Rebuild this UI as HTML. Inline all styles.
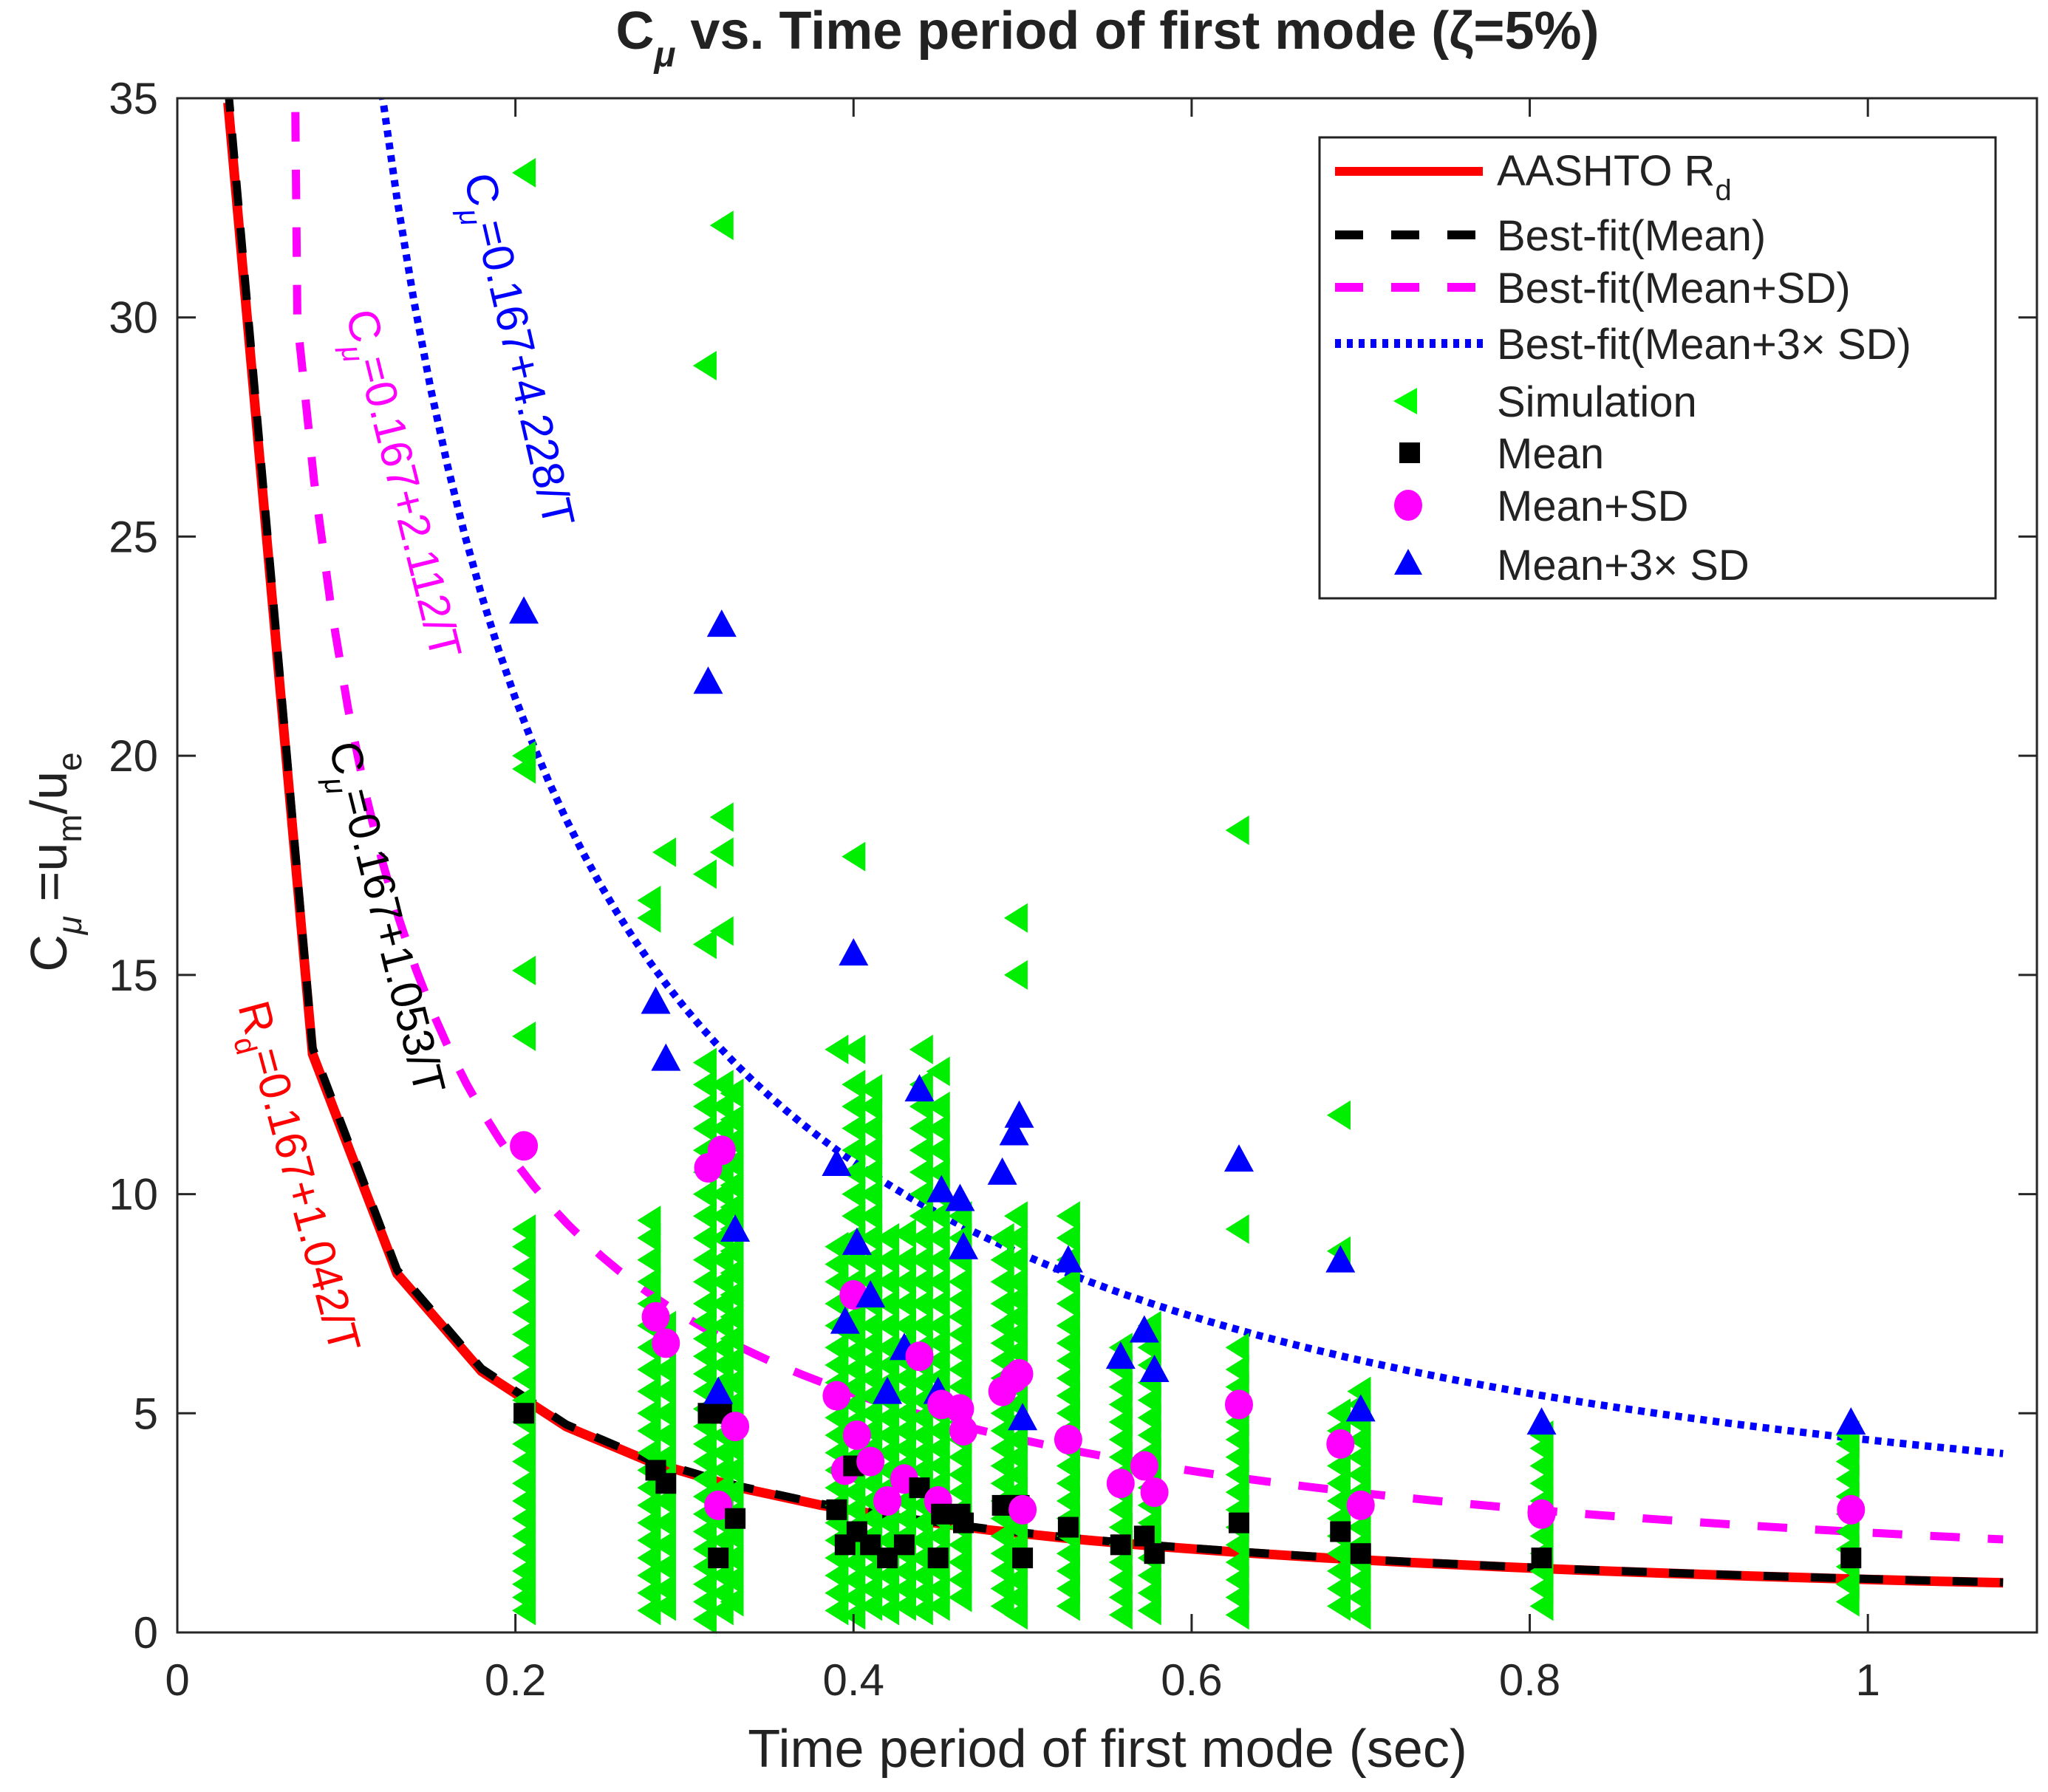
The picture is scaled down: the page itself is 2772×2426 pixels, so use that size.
<!DOCTYPE html>
<html><head><meta charset="utf-8"><style>
html,body{margin:0;padding:0;background:#fff;}
svg{display:block;font-family:"Liberation Sans",sans-serif;}
</style></head><body>
<svg id="chart" width="2772" height="2426" viewBox="0 0 2772 2426" xmlns="http://www.w3.org/2000/svg">
<rect width="2772" height="2426" fill="#fff"/>
<text x="1499" y="66" text-anchor="middle" font-size="72" font-weight="bold" fill="#222">C<tspan font-size="48" font-style="italic" dy="24">μ</tspan><tspan dy="-24"> vs. Time period of first mode (ζ=5%)</tspan></text>
<g id="curves"></g>
<g id="marks"></g>
<g id="axes"></g>
<text x="1499" y="2392" text-anchor="middle" font-size="72" fill="#222">Time period of first mode (sec)</text>
<g transform="translate(90,1167) rotate(-90)"><text text-anchor="middle" font-size="70" fill="#222">C<tspan font-size="46" font-style="italic" dy="20">μ</tspan><tspan dy="-20"> =u</tspan><tspan font-size="46" dy="20">m</tspan><tspan dy="-20">/u</tspan><tspan font-size="46" dy="20">e</tspan></text></g>
<g transform="translate(322,1362) rotate(75)"><text font-size="60" fill="#f00">R<tspan font-size="40" dy="18">d</tspan><tspan dy="-18">=0.167+1.042/T</tspan></text></g>
<g transform="translate(445,1010) rotate(76)"><text font-size="60" fill="#000">C<tspan font-size="40" font-style="italic" dy="18">μ</tspan><tspan dy="-18">=0.167+1.053/T</tspan></text></g>
<g transform="translate(468,425) rotate(76)"><text font-size="60" fill="#f0f">C<tspan font-size="40" font-style="italic" dy="18">μ</tspan><tspan dy="-18">=0.167+2.112/T</tspan></text></g>
<g transform="translate(628,240) rotate(77)"><text font-size="60" fill="#00f">C<tspan font-size="40" font-style="italic" dy="18">μ</tspan><tspan dy="-18">=0.167+4.228/T</tspan></text></g>
<g id="legend">
<rect x="1786" y="186" width="915" height="624" fill="#fff" stroke="#222" stroke-width="3"/>
<line x1="1807" y1="232" x2="2007" y2="232" stroke="#f00" stroke-width="12"/>
<text x="2026" y="251" font-size="58" fill="#222">AASHTO R<tspan font-size="40" dy="20">d</tspan></text>
<line x1="1807" y1="318" x2="2007" y2="318" stroke="#000" stroke-width="12" stroke-dasharray="38,38"/>
<text x="2026" y="339" font-size="58" fill="#222">Best-fit(Mean)</text>
<line x1="1807" y1="389" x2="2007" y2="389" stroke="#f0f" stroke-width="12" stroke-dasharray="38,38"/>
<text x="2026" y="410" font-size="58" fill="#222">Best-fit(Mean+SD)</text>
<line x1="1807" y1="465" x2="2007" y2="465" stroke="#00f" stroke-width="12" stroke-dasharray="8,8"/>
<text x="2026" y="486" font-size="58" fill="#222">Best-fit(Mean+3× SD)</text>
<polygon points="1886,543 1918,525 1918,561" fill="#0f0"/>
<text x="2026" y="564" font-size="58" fill="#222">Simulation</text>
<rect x="1894" y="599" width="28" height="28" fill="#000"/>
<text x="2026" y="634" font-size="58" fill="#222">Mean</text>
<ellipse cx="1906" cy="684" rx="19" ry="21" fill="#f0f"/>
<text x="2026" y="705" font-size="58" fill="#222">Mean+SD</text>
<polygon points="1906,743 1925,778 1887,778" fill="#00f"/>
<text x="2026" y="785" font-size="58" fill="#222">Mean+3× SD</text>
</g>
</svg>
<script>
const xTicks = [0, 0.2, 0.4, 0.6, 0.8, 1];
const xTickLabels = ["0", "0.2", "0.4", "0.6", "0.8", "1"];
const yTicks = [0, 5, 10, 15, 20, 25, 30, 35];
const yTickLabels = ["0", "5", "10", "15", "20", "25", "30", "35"];
const fitNames = ["aashto", "fit-mean", "fit-mean-sd", "fit-mean-3sd"];
const fitA = [0.167, 0.167, 0.167, 0.167];
const fitB = [1.042, 1.053, 2.112, 4.228];
const simT = [0.205, 0.279, 0.288, 0.312, 0.322, 0.328, 0.39, 0.40, 0.41, 0.42, 0.43, 0.44, 0.45, 0.463, 0.488, 0.496, 0.527, 0.558, 0.575, 0.627, 0.687, 0.699, 0.807, 0.988];
const simY = [
 [0.5,0.8,1.1,1.4,1.8,2.2,2.6,3.0,3.4,3.9,4.3,4.8,5.3,5.8,6.3,6.8,7.3,7.8,8.3,8.8,9.2,13.6,15.1,19.7,20.0,33.3],
 [0.5,0.9,1.3,1.7,2.1,2.5,2.9,3.3,3.7,4.1,4.6,5.0,5.5,6.0,6.5,7.0,7.5,8.0,8.5,9.0,9.4,16.3,16.7],
 [0.6,1.0,1.5,2.0,2.5,3.0,3.5,4.0,4.5,5.0,5.5,6.0,6.5,7.0,17.8],
 [0.3,0.7,1.1,1.5,1.9,2.3,2.7,3.1,3.5,3.9,4.3,4.7,5.1,5.5,5.9,6.3,6.7,7.1,7.5,8.0,8.5,9.0,9.5,10.0,10.5,11.0,11.5,12.0,12.5,13.0,15.7,17.3,28.9],
 [0.5,0.9,1.3,1.7,2.1,2.5,2.9,3.3,3.7,4.1,4.5,4.9,5.3,5.7,6.1,6.5,7.0,7.5,8.0,8.5,9.0,9.5,10.0,10.5,11.0,11.5,12.0,12.5,16.0,17.8,18.6,32.1],
 [0.7,1.2,1.7,2.2,2.7,3.2,3.7,4.2,4.7,5.2,5.7,6.2,6.7,7.2,7.7,8.2,8.7,9.2,9.7,10.2,10.7,11.2,11.7,12.3],
 [0.5,0.9,1.3,1.7,2.1,2.5,2.9,3.3,3.7,4.1,4.5,4.9,5.3,5.7,6.1,6.5,7.0,7.5,8.0,8.4,8.8,13.3],
 [0.4,0.8,1.2,1.6,2.0,2.4,2.8,3.2,3.6,4.0,4.4,4.8,5.2,5.6,6.0,6.4,6.8,7.2,7.6,8.0,8.5,9.0,9.5,10.0,10.5,11.0,11.5,12.0,12.5,13.3,17.7],
 [0.6,1.0,1.4,1.8,2.2,2.6,3.0,3.4,3.8,4.2,4.6,5.0,5.4,5.8,6.2,6.6,7.0,7.5,8.0,8.5,9.0,9.5,10.0,10.5,11.0,11.5,12.0,12.4],
 [0.5,0.9,1.3,1.7,2.1,2.5,2.9,3.3,3.7,4.1,4.5,4.9,5.3,5.7,6.1,6.5,7.0,7.5,8.0,8.5,9.0],
 [0.6,1.0,1.4,1.8,2.2,2.6,3.0,3.4,3.8,4.2,4.6,5.0,5.4,5.8,6.2,6.6,7.0,7.5,8.0,8.5,9.1],
 [0.5,0.9,1.3,1.7,2.1,2.5,2.9,3.3,3.7,4.1,4.5,4.9,5.3,5.7,6.1,6.5,7.0,7.5,8.0,8.5,9.0,9.5,10.0,10.5,11.0,11.5,12.0,12.5,13.3],
 [0.6,1.0,1.4,1.8,2.2,2.6,3.0,3.4,3.8,4.2,4.6,5.0,5.4,5.8,6.2,6.6,7.0,7.5,8.0,8.5,9.0,9.5,10.0,10.5,11.0,11.5,12.0,12.8],
 [0.8,1.2,1.6,2.0,2.4,2.8,3.2,3.6,4.0,4.4,4.8,5.2,5.6,6.0,6.4,6.8,7.2,7.6,8.0,8.5,9.0,9.5],
 [0.6,1.0,1.4,1.8,2.2,2.6,3.0,3.4,3.8,4.2,4.6,5.0,5.4,5.8,6.2,6.6,7.0,7.5,8.0,8.5,9.0],
 [0.4,0.8,1.2,1.6,2.0,2.4,2.8,3.2,3.6,4.0,4.4,4.8,5.2,5.6,6.0,6.4,6.8,7.2,7.6,8.0,8.5,9.0,9.5,15.0,16.3],
 [0.6,1.0,1.4,1.8,2.2,2.6,3.0,3.4,3.8,4.2,4.6,5.0,5.4,5.8,6.2,6.6,7.0,7.5,8.0,8.5,9.0,9.5],
 [0.4,0.8,1.2,1.6,2.0,2.4,2.8,3.2,3.6,4.0,4.4,4.8,5.2,5.6,6.0,6.5],
 [0.5,0.9,1.3,1.7,2.1,2.5,2.9,3.3,3.7,4.1,4.5,4.9,5.3,5.7,6.1,6.5,7.0],
 [0.4,0.8,1.2,1.6,2.0,2.4,2.8,3.2,3.6,4.0,4.4,4.8,5.2,5.6,6.0,6.5,9.2,18.3],
 [0.6,1.0,1.4,1.8,2.2,2.6,3.0,3.4,3.8,4.2,4.6,5.0,8.7,11.8],
 [0.4,0.8,1.2,1.6,2.0,2.4,2.8,3.2,3.6,4.0,4.4,4.8,5.2,5.5],
 [0.6,1.0,1.4,1.8,2.2,2.6,3.0,3.4,3.8,4.2,4.5],
 [0.7,1.1,1.5,1.9,2.3,2.7,3.1,3.5,3.9,4.3,4.5]
];
const grpT = [0.205,0.283,0.289,0.314,0.322,0.32,0.33,0.39,0.395,0.40,0.402,0.41,0.42,0.43,0.439,0.45,0.452,0.463,0.465,0.488,0.495,0.498,0.50,0.527,0.558,0.572,0.578,0.628,0.688,0.70,0.807,0.99];
const meanY = [5.0,3.7,3.4,5.0,5.0,1.7,2.6,2.8,2.0,3.8,2.3,2.0,1.7,2.0,3.3,1.7,2.7,2.7,2.5,2.9,2.9,2.9,1.7,2.4,2.0,2.2,1.8,2.5,2.3,1.8,1.7,1.7];
const sdY = [11.1,7.2,6.6,10.6,11.0,2.9,4.7,5.4,3.7,7.7,4.5,3.9,3.0,3.5,6.3,3.0,5.2,5.1,4.6,5.5,5.8,5.9,2.8,4.4,3.4,3.8,3.2,5.2,4.3,2.9,2.7,2.8];
const sd3Y = [23.3,14.4,13.1,21.7,23.0,5.5,9.2,10.7,7.1,15.5,8.9,7.7,5.5,6.5,12.4,5.5,10.1,9.9,8.8,10.5,11.4,11.8,4.9,8.5,6.3,6.9,6.0,10.8,8.5,5.1,4.8,4.8];

const NS = "http://www.w3.org/2000/svg";
const L = 240, R = 2757, T = 133, B = 2210, XMAX = 1.1, YMAX = 35;
const sx = v => L + v / XMAX * (R - L);
const sy = v => B - v / YMAX * (B - T);
function mk(tag, attrs, parent) {
  const e = document.createElementNS(NS, tag);
  for (const k in attrs) e.setAttribute(k, attrs[k]);
  parent.appendChild(e);
  return e;
}
const curves = document.getElementById('curves');
const marks = document.getElementById('marks');
const axes = document.getElementById('axes');
const clip = mk('clipPath', {id: 'pc'}, document.getElementById('chart'));
mk('rect', {x: L, y: T, width: R - L, height: B - T}, clip);
curves.setAttribute('clip-path', 'url(#pc)');

// simulation
simT.forEach((t, i) => {
  simY[i].forEach(v => {
    const x = sx(t), y = sy(v);
    const p = mk('polygon', {points: `${x-16},${y} ${x+16},${y-20} ${x+16},${y+20}`, fill: '#00ee00'}, marks);
    
    
  });
});

// fit curves
const styles = [
  {stroke: '#f00', w: 13, dash: null, t0: 0.03, step: 0.05, lead: null},
  {stroke: '#000', w: 11, dash: '34,30', t0: 0.03, step: 0.05, lead: null},
  {stroke: '#f0f', w: 11, dash: '40,38', t0: 0.071, step: 0.01, lead: 0.0695},
  {stroke: '#00f', w: 10, dash: '9,8', t0: 0.12, step: 0.01, lead: null}
];
fitNames.forEach((n, i) => {
  const s = styles[i];
  const pts = [];
  if (s.lead !== null) pts.push(`${sx(s.lead).toFixed(1)},${sy(36).toFixed(1)}`);
  for (let t = s.t0; t <= 1.081; t += s.step) pts.push(`${sx(t).toFixed(1)},${sy(fitA[i] + fitB[i] / t).toFixed(1)}`);
  const tEnd = 1.08;
  pts.push(`${sx(tEnd).toFixed(1)},${sy(fitA[i] + fitB[i] / tEnd).toFixed(1)}`);
  const pl = mk('polyline', {points: pts.join(' '), fill: 'none', stroke: s.stroke, 'stroke-width': s.w, 'stroke-linejoin': 'round'}, curves);
  if (s.dash) pl.setAttribute('stroke-dasharray', s.dash);
  
  
});

// markers
grpT.forEach((t, i) => {
  const x = sx(t);
  const a = mk('polygon', {points: `${x},${sy(sd3Y[i])-20} ${x+20},${sy(sd3Y[i])+17} ${x-20},${sy(sd3Y[i])+17}`, fill: '#00f'}, marks);
  
  
  const c = mk('ellipse', {cx: x, cy: sy(sdY[i]), rx: 19, ry: 20, fill: '#f0f'}, marks);
  
  
  const r = mk('rect', {x: x - 14, y: sy(meanY[i]) - 14, width: 28, height: 28, fill: '#000'}, marks);
  
  
});

// axes
const box = mk('rect', {x: L, y: T, width: R - L, height: B - T, fill: 'none', stroke: '#262626', 'stroke-width': 3}, axes);


xTicks.forEach((v, i) => {
  const x = sx(v);
  mk('line', {x1: x, y1: B, x2: x, y2: B - 25, stroke: '#262626', 'stroke-width': 3}, axes);
  mk('line', {x1: x, y1: T, x2: x, y2: T + 25, stroke: '#262626', 'stroke-width': 3}, axes);
  const tx = mk('text', {x: x, y: 2295, 'text-anchor': 'middle', 'font-size': 60, fill: '#262626'}, axes);
  tx.textContent = xTickLabels[i];
  
  
});
yTicks.forEach((v, i) => {
  const y = sy(v);
  mk('line', {x1: L, y1: y, x2: L + 25, y2: y, stroke: '#262626', 'stroke-width': 3}, axes);
  mk('line', {x1: R, y1: y, x2: R - 25, y2: y, stroke: '#262626', 'stroke-width': 3}, axes);
  const ty = mk('text', {x: 214, y: y + 21, 'text-anchor': 'end', 'font-size': 60, fill: '#262626'}, axes);
  ty.textContent = yTickLabels[i];
  
  
});
</script>
</body></html>
